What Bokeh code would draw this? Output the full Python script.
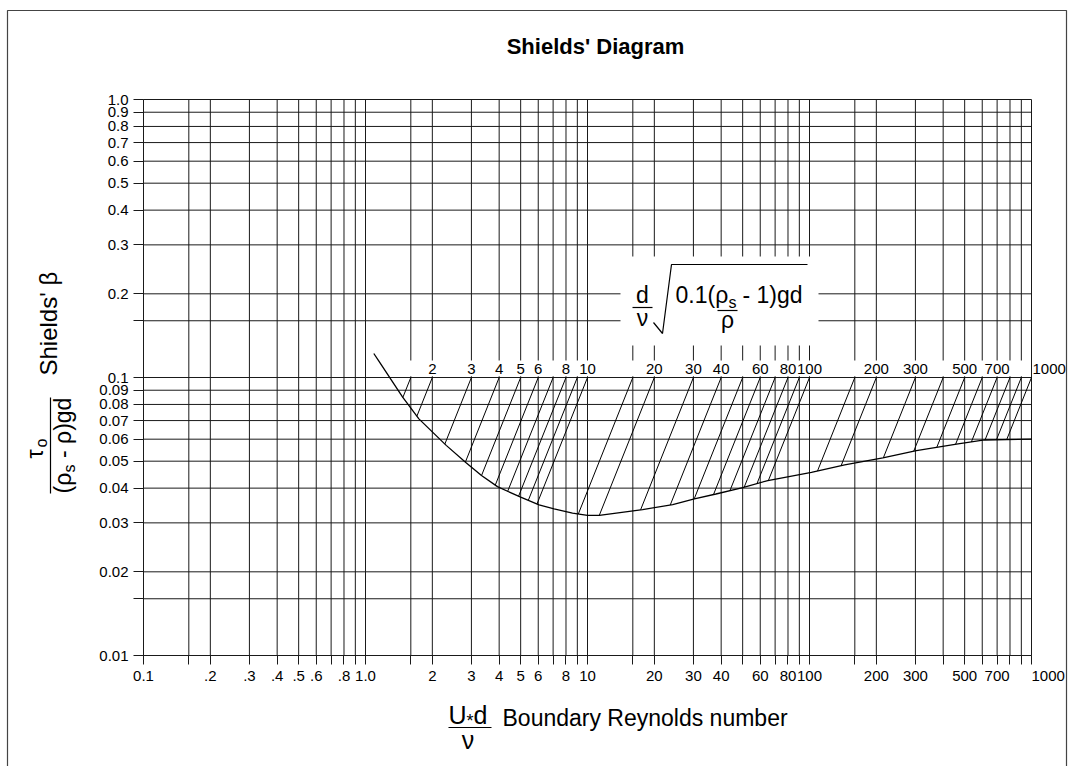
import numpy as np
from bokeh.plotting import figure
from bokeh.models import FixedTicker, Label, Range1d
from bokeh.embed import file_html
from bokeh.resources import INLINE

# ---------------- data ----------------
X_LINES = [0.1, 0.16, 0.2, 0.3, 0.4, 0.5, 0.6, 0.7, 0.8, 0.9, 1.0,
           1.6, 2, 3, 4, 5, 6, 7, 8, 9, 10,
           16, 20, 30, 40, 50, 60, 70, 80, 90, 100,
           160, 200, 300, 400, 500, 600, 700, 800, 900, 1000]
X_LABELS = ["0.1", "", ".2", ".3", ".4", ".5", ".6", "", ".8", "", "1.0",
            "", "2", "3", "4", "5", "6", "", "8", "", "10",
            "", "20", "30", "40", "", "60", "", "80", "", "100",
            "", "200", "300", "", "500", "", "700", "", "", "1000"]

Y_LINES = [0.01, 0.016, 0.02, 0.03, 0.04, 0.05, 0.06, 0.07, 0.08, 0.09,
           0.1, 0.16, 0.2, 0.3, 0.4, 0.5, 0.6, 0.7, 0.8, 0.9, 1.0]
Y_LABELS = ["0.01", "", "0.02", "0.03", "0.04", "0.05", "0.06", "0.07", "0.08", "0.09",
            "0.1", "", "0.2", "0.3", "0.4", "0.5", "0.6", "0.7", "0.8", "0.9", "1.0"]

# Shields curve (boundary Reynolds number, Shields' beta)
RE_CURVE = [1.09, 1.145, 1.47, 1.74, 2.31, 2.83, 3.33, 3.93, 5.0, 6.05, 7.07, 8.56,
            10.0, 11.3, 17.7, 24.2, 30.3, 37.9, 50.0, 64.9, 102, 144, 214, 303,
            467, 615, 1000]
TAU_CURVE = [0.122, 0.115, 0.085, 0.071, 0.057, 0.0495, 0.0444, 0.0405, 0.0371,
             0.0348, 0.0337, 0.0325, 0.0319, 0.0319, 0.0335, 0.0349, 0.0366,
             0.0381, 0.0402, 0.0426, 0.0456, 0.0485, 0.0514, 0.0546, 0.0577,
             0.0596, 0.060]

# parameter (d/nu) sqrt(0.1 (rho_s/rho - 1) g d) lines
PARAMS = [1.6, 2, 3, 4, 5, 6, 7, 8, 9, 10,
          16, 20, 30, 40, 50, 60, 70, 80, 90, 100,
          160, 200, 300, 400, 500, 600, 700, 800, 900, 1000]
PARAM_LABELS = ["", "2", "3", "4", "5", "6", "", "8", "", "10",
                "", "20", "30", "40", "", "60", "", "80", "", "100",
                "", "200", "300", "", "500", "", "700", "", "", "1000"]
PARAM_TAU = 0.1  # the parameter equals Re* where beta = 0.1

# ---------------- layout ----------------
FONT = "Liberation Sans"
W, H = 1070, 766                 # canvas
PL, PT, PW, PH = 143, 99, 888, 556  # chart area inside the canvas
X0, X1, Y0, Y1 = 0.1, 1000.0, 0.01, 1.0
LX0, LX1, LY0, LY1 = np.log10(X0), np.log10(X1), np.log10(Y0), np.log10(Y1)
BASE = 0.31                      # baseline correction (fraction of font size)


def dx(px):
    return float(10 ** (LX0 + (px - PL) / PW * (LX1 - LX0)))


def dy(py):
    return float(10 ** (LY1 - (py - PT) / PH * (LY1 - LY0)))


p = figure(x_axis_type="log", y_axis_type="log",
           x_range=Range1d(dx(0), dx(W)), y_range=Range1d(dy(H), dy(0)),
           width=W, height=H, min_border=0,
           output_backend="svg", toolbar_location=None)
p.background_fill_color = "white"
p.border_fill_color = "white"
p.outline_line_color = None
p.grid.visible = False

for ax, ticks, labels, tout, loc, bnds, stand in (
        (p.xaxis[0], X_LINES, X_LABELS, 9, Y0, (X0, X1), 2),
        (p.yaxis[0], Y_LINES, Y_LABELS, 10, X0, (Y0, Y1), 5)):
    ax.ticker = FixedTicker(ticks=ticks)
    lab_map = {t: l for t, l in zip(ticks, labels)}
    if ax is p.xaxis[0]:
        lab_map[X1] = "\u00a0" * 8 + X_LABELS[-1]
    ax.major_label_overrides = lab_map
    ax.fixed_location = loc
    ax.bounds = bnds
    ax.major_tick_in = 0
    ax.major_tick_out = tout
    ax.minor_tick_line_color = None
    ax.major_tick_line_color = "#1a1a1a"
    ax.axis_line_color = "#1a1a1a"
    ax.major_label_text_font = FONT
    ax.major_label_text_font_size = "15px"
    ax.major_label_text_color = "black"
    ax.major_label_standoff = stand

# grid lines from the tick arrays
p.segment(x0=X_LINES, y0=[Y0] * len(X_LINES), x1=X_LINES, y1=[Y1] * len(X_LINES),
          line_color="#1a1a1a", line_width=1)
p.segment(x0=[X0] * len(Y_LINES), y0=Y_LINES, x1=[X1] * len(Y_LINES), y1=Y_LINES,
          line_color="#1a1a1a", line_width=1)

# outer frame of the figure
p.line([dx(7), dx(7), dx(1066), dx(1066)], [dy(800), dy(10), dy(10), dy(800)],
       line_color="#444", line_width=1.2)

# white areas behind formula and parameter labels
p.quad(left=[dx(620)], right=[dx(818)], top=[dy(256)], bottom=[dy(345)],
       fill_color="white", line_color=None)
p.quad(left=[dx(393)], right=[dx(1027)], top=[dy(360)], bottom=[dy(375.7)],
       fill_color="white", line_color=None)

# parameter lines: beta = 0.1 (Re/P)^2, from the curve up to beta = 0.1
lr = np.log10(RE_CURVE)
lt = np.log10(TAU_CURVE)
g = np.linspace(lr[0], lr[-1], 6000)
ct = np.interp(g, lr, lt)
xs0, ys0 = [], []
for P in PARAMS:
    diff = (np.log10(PARAM_TAU) + 2 * (g - np.log10(P))) - ct
    r = float(np.interp(0.0, diff, g))
    xs0.append(10 ** r)
    ys0.append(10 ** float(np.interp(r, lr, lt)))
p.segment(x0=xs0, y0=ys0, x1=PARAMS, y1=[PARAM_TAU] * len(PARAMS),
          line_color="black", line_width=1)

p.line(RE_CURVE, TAU_CURVE, line_color="black", line_width=1.3)


def lab(text, px, py, size=23, align="left", angle=0.0, style="normal"):
    """Text whose alphabetic baseline sits at page pixel (px, py)."""
    if angle:
        px = px - BASE * size
    else:
        py = py - BASE * size
    p.add_layout(Label(x=dx(px), y=dy(py), text=text, text_font=FONT,
                       text_font_size=f"{size}px", text_align=align,
                       text_baseline="alphabetic", angle=angle, text_font_style=style,
                       text_color="black"))


def bar(px0, py0, px1, py1, w=1.2):
    p.line([dx(px0), dx(px1)], [dy(py0), dy(py1)], line_color="black", line_width=w)


# parameter labels above beta = 0.1
for P, t in zip(PARAMS, PARAM_LABELS):
    if t:
        last = P == PARAMS[-1]
        p.add_layout(Label(x=P, y=PARAM_TAU, text=t, text_font=FONT, text_font_size="15px",
                           text_align="left" if last else "center",
                           x_offset=1 if last else 0,
                           text_baseline="alphabetic", y_offset=4 + BASE * 15,
                           text_color="black"))

# title
lab("Shields' Diagram", 595, 53, 22, "center", style="bold")

# formula inside the plot
lab("d", 642, 302, 23, "center")
bar(632, 307, 652, 307)
lab("ν", 642, 325, 23, "center")
p.line([dx(653), dx(662), dx(671), dx(807)], [dy(322), dy(333), dy(264), dy(264)],
       line_color="black", line_width=1.2)
lab("0.1(ρ", 675, 302, 23)
lab("s", 728, 307, 16)
lab("- 1)gd", 742, 302, 23)
bar(717, 310, 737, 310)
lab("ρ", 727, 327, 23, "center")

# x axis label
lab("U", 448, 722, 25)
lab("*", 466, 726, 18)
lab("d", 473, 722, 25)
bar(448, 727, 491, 727)
lab("ν", 467.5, 747, 25, "center")
lab("Boundary Reynolds number", 502, 725, 23)

# y axis label (rotated)
R = np.pi / 2
lab("Shields' β", 55, 375, 24, angle=R)
lab("τ", 42, 458, 23, angle=R)
lab("o", 46, 447, 16, angle=R)
bar(50, 397, 50, 493)
lab("(ρ", 70, 493, 23, angle=R)
lab("s", 74, 472, 16, angle=R)
lab("- ρ)gd", 70, 457.5, 23, angle=R)

open("out.html", "w").write(file_html(p, INLINE))
